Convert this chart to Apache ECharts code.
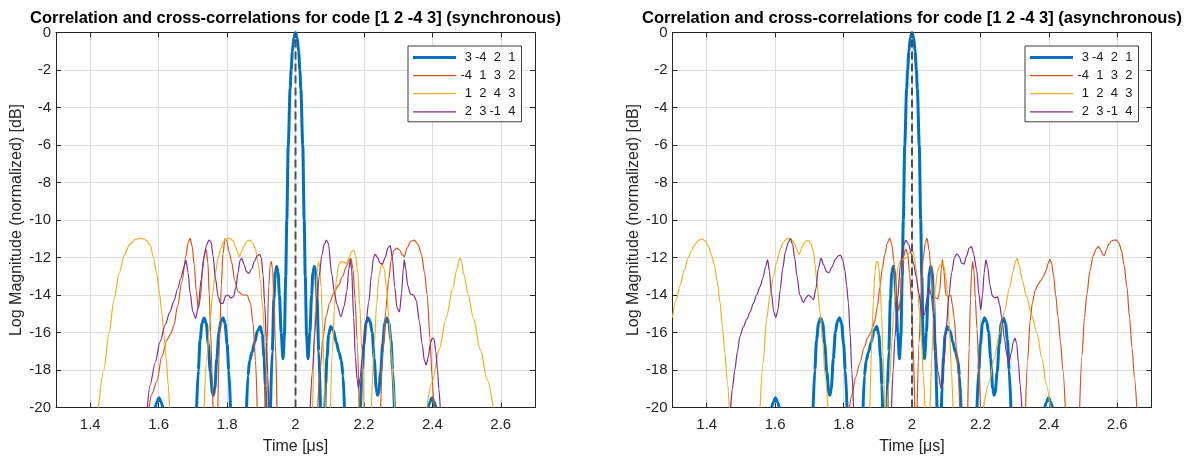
<!DOCTYPE html>
<html>
<head>
<meta charset="utf-8">
<title>Correlation and cross-correlations for code [1 2 -4 3]</title>
<script src="https://cdn.jsdelivr.net/npm/echarts@6/dist/echarts.min.js"></script>
<style>
  html, body { margin: 0; padding: 0; background: #ffffff; }
  #chart { width: 1186px; height: 460px; }
</style>
</head>
<body>
<div id="chart"></div>
<script>
// ---- axes ----------------------------------------------------------------
const timeTicks = [1.4, 1.6, 1.8, 2.0, 2.2, 2.4, 2.6];   // [µs]
const timeRange = [1.3, 2.7];
const dbRange = [-20, 0];                                 // [dB]
const dbStep = 2;
const delayMarker = 2.0;                                  // expected peak position [µs]

const plotTitles = [
  'Correlation and cross-correlations for code [1 2 -4 3] (synchronous)',
  'Correlation and cross-correlations for code [1 2 -4 3] (asynchronous)'
];
const codeNames = ['3 -4 2 1', '-4 1 3 2', '1 2 4 3', '2 3 -1 4'];

// ---- curves: each inner array is one visible run of [time µs, level dB] ---
// auto-correlation of 3 -4 2 1 (same in both cases)
const autoCorr = [
  [[1.590,-20],[1.595,-19.7],[1.601,-19.48],[1.607,-19.7],[1.612,-20]],
  [[1.711,-20],[1.716,-18.0],[1.721,-16.4],[1.727,-15.5],[1.733,-15.22],[1.739,-15.5],[1.745,-16.6],[1.751,-18.1],[1.757,-19.2],[1.760,-19.35],[1.764,-19.0],[1.770,-17.4],[1.776,-16.0],[1.782,-15.4],[1.788,-15.21],[1.794,-15.5],[1.800,-16.6],[1.805,-18.0],[1.810,-20]],
  [[1.857,-20],[1.861,-18.3],[1.866,-17.5],[1.873,-17.05],[1.881,-16.5],[1.889,-15.9],[1.897,-15.68],[1.903,-16.1],[1.908,-17.3],[1.912,-18.8],[1.914,-20]],
  [[1.927,-20],[1.932,-17.0],[1.937,-14.2],[1.941,-12.8],[1.945,-12.48],[1.949,-12.8],[1.953,-14.0],[1.958,-16.0],[1.9635,-17.4],[1.9675,-16.2],[1.9715,-13.0],[1.9746,-10.0],[1.9788,-6.0],[1.9844,-3.0],[1.9872,-2.0],[1.9909,-1.0],[1.9953,-0.27],[2.0,0],[2.0047,-0.27],[2.0091,-1.0],[2.0128,-2.0],[2.0156,-3.0],[2.0212,-6.0],[2.0254,-10.0],[2.0285,-13.0],[2.0325,-16.2],[2.0365,-17.4],[2.042,-16.0],[2.047,-14.0],[2.051,-12.8],[2.055,-12.48],[2.059,-12.8],[2.063,-14.2],[2.068,-17.0],[2.073,-20]],
  [[2.086,-20],[2.088,-18.8],[2.092,-17.3],[2.097,-16.1],[2.103,-15.68],[2.111,-15.9],[2.119,-16.5],[2.127,-17.05],[2.134,-17.5],[2.139,-18.3],[2.143,-20]],
  [[2.190,-20],[2.195,-18.0],[2.200,-16.6],[2.206,-15.5],[2.212,-15.21],[2.218,-15.4],[2.224,-16.0],[2.230,-17.4],[2.236,-19.0],[2.240,-19.35],[2.243,-19.2],[2.249,-18.1],[2.255,-16.6],[2.261,-15.5],[2.267,-15.22],[2.273,-15.5],[2.279,-16.4],[2.284,-18.0],[2.289,-20]],
  [[2.388,-20],[2.393,-19.7],[2.399,-19.48],[2.405,-19.7],[2.410,-20]]
];

// synchronous cross-correlations
const syncCodeB = [
  [[1.572,-20],[1.580,-19.3],[1.595,-18.6],[1.609,-17.3],[1.624,-16.4],[1.636,-16.05],[1.645,-15.6],[1.655,-14.6],[1.668,-13.3],[1.680,-11.9],[1.686,-11.2],[1.692,-10.98],[1.698,-11.4],[1.704,-12.4],[1.710,-13.8],[1.716,-14.7],[1.722,-14.2],[1.728,-12.7],[1.734,-11.8],[1.739,-11.58],[1.744,-12.3],[1.748,-14.0],[1.752,-16.0],[1.756,-18.2],[1.759,-20]],
  [[1.773,-20],[1.778,-16.5],[1.783,-13.5],[1.788,-11.8],[1.794,-11.0],[1.799,-11.1],[1.806,-11.7],[1.814,-12.3],[1.822,-13.2],[1.832,-13.8],[1.845,-14.0],[1.858,-14.0],[1.868,-14.4],[1.876,-15.5],[1.883,-17.5],[1.888,-20]],
  [[1.912,-20],[1.917,-16.5],[1.922,-13.5],[1.926,-12.4],[1.929,-12.22],[1.933,-12.6],[1.937,-14.2],[1.941,-16.5],[1.946,-20]],
  [[2.065,-20],[2.072,-18.0],[2.080,-16.3],[2.090,-15.1],[2.100,-14.4],[2.112,-13.9],[2.125,-13.5],[2.138,-13.0],[2.148,-12.5],[2.156,-12.15],[2.162,-12.05],[2.168,-12.6],[2.174,-14.2],[2.180,-16.4],[2.186,-20]],
  [[2.249,-20],[2.256,-17.0],[2.264,-14.8],[2.272,-13.2],[2.280,-12.1],[2.288,-11.6],[2.296,-11.5],[2.304,-11.6],[2.312,-11.85],[2.318,-11.95],[2.326,-11.5],[2.336,-11.15],[2.347,-11.07],[2.358,-11.3],[2.368,-11.8],[2.377,-12.8],[2.385,-14.0],[2.393,-16.3],[2.399,-18.3],[2.404,-20]]
];
const syncCodeC = [
  [[1.424,-20],[1.440,-18.0],[1.455,-16.0],[1.470,-14.2],[1.485,-12.8],[1.500,-11.85],[1.515,-11.3],[1.530,-11.05],[1.545,-10.98],[1.555,-11.0],[1.565,-11.1],[1.575,-11.33],[1.585,-12.0],[1.595,-12.93],[1.603,-14.0],[1.609,-14.9],[1.616,-16.2],[1.622,-17.4],[1.628,-18.8],[1.632,-20]],
  [[1.733,-20],[1.740,-17.5],[1.750,-15.4],[1.758,-13.9],[1.766,-12.8],[1.774,-12.0],[1.782,-11.5],[1.790,-11.15],[1.798,-11.0],[1.808,-10.98],[1.817,-11.1],[1.824,-11.4],[1.831,-11.75],[1.836,-11.95],[1.842,-11.7],[1.850,-11.35],[1.858,-11.12],[1.866,-11.07],[1.874,-11.2],[1.882,-11.5],[1.890,-12.2],[1.897,-13.2],[1.904,-14.6],[1.910,-16.3],[1.915,-18.0],[1.920,-20]],
  [[2.050,-20],[2.055,-16.8],[2.059,-14.3],[2.063,-12.8],[2.067,-12.22],[2.071,-12.5],[2.075,-13.6],[2.079,-15.5],[2.083,-17.8],[2.087,-20]],
  [[2.102,-20],[2.108,-17.0],[2.114,-14.6],[2.120,-13.1],[2.126,-12.4],[2.134,-12.2],[2.142,-12.25],[2.150,-12.3],[2.157,-12.0],[2.163,-11.7],[2.170,-11.6],[2.176,-11.9],[2.182,-12.8],[2.188,-14.6],[2.194,-17.0],[2.200,-20]],
  [[2.222,-20],[2.230,-16.8],[2.237,-14.5],[2.244,-13.0],[2.252,-12.3],[2.259,-12.6],[2.266,-13.6],[2.273,-15.2],[2.280,-17.0],[2.286,-18.8],[2.290,-20]],
  [[2.384,-20],[2.400,-18.6],[2.420,-16.9],[2.440,-15.25],[2.460,-13.6],[2.472,-12.6],[2.478,-12.15],[2.481,-12.03],[2.485,-12.2],[2.492,-12.9],[2.505,-14.0],[2.520,-15.25],[2.540,-16.9],[2.560,-18.5],[2.578,-20]]
];
const syncCodeD = [
  [[1.567,-20],[1.575,-18.8],[1.590,-17.6],[1.604,-16.5],[1.619,-15.6],[1.633,-14.9],[1.645,-14.3],[1.655,-13.7],[1.665,-13.1],[1.674,-12.5],[1.680,-12.15],[1.686,-12.8],[1.692,-13.9],[1.700,-14.9],[1.708,-15.25],[1.716,-14.6],[1.724,-13.2],[1.732,-12.0],[1.740,-11.35],[1.747,-11.07],[1.753,-11.15],[1.759,-11.9],[1.766,-13.1],[1.774,-14.1],[1.781,-14.45],[1.788,-14.45],[1.796,-14.05],[1.803,-14.0],[1.810,-14.15],[1.818,-14.1],[1.826,-13.6],[1.832,-12.8],[1.838,-12.15],[1.843,-12.05],[1.850,-12.4],[1.857,-12.75],[1.864,-12.85],[1.872,-12.6],[1.880,-12.2],[1.888,-11.92],[1.895,-11.83],[1.900,-12.0],[1.905,-12.9],[1.910,-14.5],[1.915,-16.5],[1.919,-18.3],[1.922,-20]],
  [[2.043,-20],[2.050,-18.0],[2.056,-16.0],[2.062,-14.7],[2.069,-13.0],[2.077,-11.87],[2.084,-11.3],[2.090,-11.07],[2.096,-11.25],[2.106,-12.9],[2.114,-13.9],[2.121,-14.5],[2.133,-15.16],[2.142,-14.6],[2.150,-13.8],[2.156,-12.6],[2.160,-12.13],[2.164,-12.6],[2.170,-15.2],[2.175,-17.3],[2.180,-18.5],[2.184,-18.97],[2.189,-18.4],[2.195,-17.3],[2.205,-15.6],[2.214,-14.4],[2.222,-12.9],[2.228,-12.0],[2.233,-11.83],[2.240,-12.0],[2.247,-12.3],[2.254,-12.35],[2.262,-12.0],[2.270,-11.5],[2.277,-11.37],[2.283,-12.0],[2.290,-13.6],[2.297,-14.7],[2.304,-14.9],[2.310,-13.9],[2.315,-12.6],[2.318,-12.13],[2.322,-12.6],[2.328,-13.5],[2.336,-13.95],[2.345,-14.0],[2.353,-14.3],[2.362,-15.4],[2.370,-16.6],[2.377,-17.5],[2.382,-17.73],[2.388,-17.3],[2.394,-16.6],[2.400,-16.3],[2.405,-16.35],[2.410,-17.0],[2.415,-18.0],[2.419,-19.0],[2.423,-20]]
];

// asynchronous cross-correlations
const asyncCodeB = [
  [[1.817,-20],[1.825,-19.3],[1.835,-18.4],[1.848,-17.6],[1.860,-16.8],[1.870,-16.3],[1.878,-16.05],[1.886,-15.7],[1.892,-15.3],[1.899,-14.6],[1.906,-13.6],[1.913,-12.6],[1.921,-11.8],[1.928,-11.2],[1.935,-10.98],[1.941,-11.3],[1.947,-12.2],[1.952,-13.3],[1.957,-14.3],[1.961,-14.85],[1.966,-14.2],[1.971,-12.8],[1.976,-11.9],[1.982,-11.55],[1.987,-11.8],[1.993,-12.8],[1.998,-14.2],[2.003,-16.6],[2.008,-20]],
  [[2.015,-20],[2.021,-16.5],[2.027,-13.8],[2.033,-12.0],[2.039,-11.2],[2.044,-10.98],[2.050,-11.6],[2.056,-12.8],[2.062,-13.8],[2.068,-14.15],[2.075,-14.2],[2.081,-13.8],[2.086,-12.6],[2.089,-12.13],[2.093,-12.7],[2.099,-14.0],[2.106,-14.1],[2.113,-14.0],[2.118,-14.5],[2.123,-15.2],[2.130,-16.8],[2.135,-18.3],[2.140,-20]],
  [[2.163,-20],[2.167,-16.8],[2.171,-14.2],[2.174,-12.8],[2.177,-12.22],[2.181,-12.7],[2.185,-14.2],[2.190,-15.8],[2.195,-17.8],[2.200,-20]],
  [[2.332,-20],[2.338,-17.5],[2.345,-15.4],[2.352,-14.4],[2.360,-13.75],[2.368,-13.45],[2.376,-13.25],[2.384,-13.0],[2.392,-12.7],[2.398,-12.3],[2.403,-12.1],[2.408,-12.3],[2.414,-13.0],[2.420,-14.0],[2.427,-15.2],[2.434,-16.5],[2.441,-18.0],[2.448,-20]],
  [[2.490,-20],[2.497,-17.2],[2.504,-15.2],[2.511,-14.0],[2.520,-12.7],[2.530,-11.9],[2.538,-11.55],[2.545,-11.42],[2.552,-11.6],[2.558,-11.85],[2.562,-11.9],[2.568,-11.6],[2.575,-11.3],[2.583,-11.12],[2.590,-11.07],[2.597,-11.07],[2.604,-11.2],[2.612,-11.6],[2.620,-12.4],[2.628,-13.56],[2.636,-15.2],[2.643,-16.8],[2.650,-18.4],[2.657,-20]]
];
const asyncCodeC = [
  [[1.300,-15.2],[1.310,-14.3],[1.322,-13.5],[1.334,-12.7],[1.346,-12.0],[1.356,-11.6],[1.366,-11.3],[1.376,-11.08],[1.385,-11.0],[1.395,-11.1],[1.404,-11.35],[1.413,-11.8],[1.422,-12.4],[1.431,-13.3],[1.439,-14.4],[1.446,-15.7],[1.453,-17.1],[1.460,-18.6],[1.466,-20]],
  [[1.556,-20],[1.565,-17.6],[1.575,-15.3],[1.585,-14.0],[1.595,-13.0],[1.605,-12.2],[1.614,-11.6],[1.624,-11.2],[1.634,-11.01],[1.643,-10.98],[1.651,-11.1],[1.658,-11.3],[1.664,-11.6],[1.670,-11.85],[1.676,-11.55],[1.682,-11.3],[1.690,-11.12],[1.697,-11.1],[1.704,-11.25],[1.712,-11.7],[1.716,-12.3],[1.722,-13.3],[1.731,-14.9],[1.739,-16.5],[1.746,-18.3],[1.754,-20]],
  [[1.877,-20],[1.882,-16.8],[1.887,-14.3],[1.892,-12.7],[1.896,-12.25],[1.899,-12.2],[1.903,-12.5],[1.907,-13.5],[1.911,-15.0],[1.915,-17.0],[1.920,-20]],
  [[1.927,-20],[1.935,-18.5],[1.941,-16.5],[1.947,-14.8],[1.953,-13.4],[1.959,-12.5],[1.965,-12.2],[1.974,-12.1],[1.984,-12.0],[1.992,-11.75],[1.999,-11.6],[2.005,-11.8],[2.010,-12.3],[2.016,-13.4],[2.022,-15.0],[2.028,-16.6],[2.033,-18.3],[2.038,-20]],
  [[2.053,-20],[2.058,-17.3],[2.063,-15.2],[2.068,-13.7],[2.074,-12.8],[2.080,-12.45],[2.087,-12.3],[2.093,-12.45],[2.099,-13.0],[2.105,-14.3],[2.110,-16.0],[2.115,-18.0],[2.120,-20]],
  [[2.209,-20],[2.225,-18.7],[2.240,-17.4],[2.255,-16.1],[2.270,-14.9],[2.285,-13.6],[2.296,-12.7],[2.302,-12.25],[2.307,-12.04],[2.313,-12.4],[2.322,-13.2],[2.335,-14.1],[2.350,-15.1],[2.365,-16.04],[2.380,-17.4],[2.393,-18.8],[2.404,-20]]
];
const asyncCodeD = [
  [[1.470,-20],[1.475,-19.0],[1.482,-18.0],[1.490,-17.0],[1.497,-16.2],[1.507,-15.7],[1.517,-15.3],[1.527,-14.9],[1.536,-14.45],[1.546,-14.0],[1.556,-13.55],[1.564,-13.1],[1.572,-12.5],[1.578,-12.12],[1.583,-12.7],[1.589,-13.9],[1.596,-14.9],[1.602,-15.2],[1.608,-14.8],[1.615,-13.7],[1.622,-12.6],[1.630,-11.7],[1.638,-11.2],[1.645,-11.0],[1.651,-11.3],[1.657,-12.0],[1.664,-13.0],[1.672,-14.0],[1.683,-14.4],[1.690,-14.15],[1.697,-14.0],[1.704,-14.1],[1.712,-14.25],[1.719,-13.7],[1.726,-12.6],[1.734,-12.05],[1.742,-12.4],[1.750,-12.75],[1.757,-12.82],[1.766,-12.5],[1.776,-12.1],[1.784,-11.92],[1.791,-11.87],[1.797,-12.1],[1.804,-12.7],[1.809,-13.5],[1.814,-14.4],[1.819,-16.0],[1.824,-18.0],[1.829,-20]],
  [[1.940,-20],[1.945,-18.0],[1.950,-16.3],[1.958,-14.2],[1.966,-12.4],[1.974,-11.4],[1.982,-11.08],[1.990,-11.3],[1.998,-11.8],[2.004,-12.25],[2.012,-13.0],[2.020,-13.9],[2.028,-14.9],[2.036,-15.07],[2.043,-14.3],[2.050,-13.6],[2.056,-14.0],[2.062,-14.9],[2.068,-16.4],[2.076,-18.1],[2.085,-18.98],[2.092,-17.8],[2.100,-15.8],[2.108,-14.0],[2.116,-12.8],[2.124,-12.0],[2.131,-11.8],[2.138,-11.95],[2.145,-12.3],[2.152,-12.35],[2.160,-11.9],[2.167,-11.5],[2.174,-11.42],[2.180,-11.8],[2.189,-12.67],[2.196,-14.0],[2.201,-14.8],[2.206,-14.0],[2.211,-12.8],[2.216,-12.13],[2.221,-12.5],[2.228,-13.5],[2.235,-14.05],[2.242,-14.15],[2.250,-14.1],[2.256,-14.5],[2.262,-15.16],[2.270,-16.3],[2.277,-17.2],[2.283,-17.64],[2.290,-17.1],[2.296,-16.5],[2.301,-16.3],[2.306,-16.6],[2.311,-17.6],[2.316,-18.8],[2.321,-20]]
];

// ---- styling ----------------------------------------------------------------
const lineColors = ['#0072BD', '#D95319', '#EDB120', '#7E2F8E'];
const lineWidths = [3, 1.2, 1.2, 1.2];
const axisColor = '#262626';
const gridColor = '#dedede';
const fontFamily = "'Liberation Sans', Arial, Helvetica, sans-serif";

const plotGrids = [
  { left: 56, top: 32.5, width: 479, height: 375 },
  { left: 672.5, top: 32.5, width: 479, height: 375 }
];
const legendLefts = [408, 1025];
const legendSample = { w: 43, h: 14 };
const curveSets = [
  [autoCorr, syncCodeB, syncCodeC, syncCodeD],
  [autoCorr, asyncCodeB, asyncCodeC, asyncCodeD]
];

// concatenate runs, with a gap between them
function joinRuns(runs) {
  const out = [];
  runs.forEach((run, i) => {
    if (i > 0) out.push([run[0][0], null]);
    run.forEach(pt => out.push(pt));
  });
  return out;
}

// legend sample: a horizontal bar of the line's width, centred in the icon box
// (two hair-thin corner specks pin the path's bounds to the full box)
function lineSampleIcon(width) {
  const { w, h } = legendSample;
  const y0 = h / 2 - width / 2, y1 = h / 2 + width / 2;
  return 'path://M0,0h0.001v0.001h-0.001Z' +
         'M0,' + y0 + 'H' + w + 'V' + y1 + 'H0Z' +
         'M' + (w - 0.001) + ',' + (h - 0.001) + 'h0.001v0.001h-0.001Z';
}

const tickLabel = { fontFamily, fontSize: 15, color: axisColor };
const nameStyle = { fontFamily, fontSize: 16, color: axisColor };

const xAxes = [], yAxes = [], series = [];
plotGrids.forEach((g, p) => {
  xAxes.push({
    type: 'value', gridIndex: p, position: 'bottom',
    min: timeRange[0], max: timeRange[1],
    axisLine: { show: true, onZero: false, lineStyle: { color: axisColor, width: 1 } },
    axisTick: { show: true, inside: true, length: 5, customValues: timeTicks, lineStyle: { color: axisColor } },
    axisLabel: Object.assign({ customValues: timeTicks, margin: 10,
      formatter: v => String(+(+v).toFixed(1)) }, tickLabel),
    splitLine: { show: true, lineStyle: { color: gridColor, width: 1 } },
    name: 'Time [\u03bcs]', nameLocation: 'middle', nameGap: 31, nameTextStyle: nameStyle
  });
  xAxes.push({
    type: 'value', gridIndex: p, position: 'top',
    min: timeRange[0], max: timeRange[1],
    axisLine: { show: true, onZero: false, lineStyle: { color: axisColor, width: 1 } },
    axisTick: { show: true, inside: true, length: 5, customValues: timeTicks, lineStyle: { color: axisColor } },
    axisLabel: { show: false },
    splitLine: { show: false }
  });
  yAxes.push({
    type: 'value', gridIndex: p, position: 'left',
    min: dbRange[0], max: dbRange[1], interval: dbStep,
    axisLine: { show: true, onZero: false, lineStyle: { color: axisColor, width: 1 } },
    axisTick: { show: true, inside: true, length: 5, lineStyle: { color: axisColor } },
    axisLabel: Object.assign({ margin: 5 }, tickLabel),
    splitLine: { show: true, lineStyle: { color: gridColor, width: 1 } },
    name: 'Log Magnitude (normalized) [dB]', nameLocation: 'middle', nameGap: 31,
    nameTextStyle: nameStyle
  });
  yAxes.push({
    type: 'value', gridIndex: p, position: 'right',
    min: dbRange[0], max: dbRange[1], interval: dbStep,
    axisLine: { show: true, onZero: false, lineStyle: { color: axisColor, width: 1 } },
    axisTick: { show: true, inside: true, length: 5, lineStyle: { color: axisColor } },
    axisLabel: { show: false },
    splitLine: { show: false }
  });

  curveSets[p].forEach((runs, k) => {
    series.push({
      name: codeNames[k], type: 'line',
      xAxisIndex: 2 * p, yAxisIndex: 2 * p,
      data: joinRuns(runs),
      showSymbol: false, symbol: 'none',
      smooth: 0.3, smoothMonotone: 'x',
      connectNulls: false, clip: true,
      lineStyle: { color: lineColors[k], width: lineWidths[k], join: 'round' },
      itemStyle: { color: lineColors[k] },
      emphasis: { disabled: true },
      animation: false
    });
  });

  // dashed marker at the expected delay
  series.push({
    type: 'line', xAxisIndex: 2 * p, yAxisIndex: 2 * p,
    data: [[delayMarker, dbRange[0]], [delayMarker, dbRange[1]]],
    showSymbol: false, symbol: 'none', silent: true,
    lineStyle: { color: '#505050', width: 2, type: [8, 4] },
    emphasis: { disabled: true },
    animation: false
  });
});

const chart = echarts.init(document.getElementById('chart'), null, { renderer: 'canvas' });
chart.setOption({
  animation: false,
  backgroundColor: '#ffffff',
  title: plotTitles.map((t, p) => ({
    text: t,
    left: plotGrids[p].left + plotGrids[p].width / 2,
    top: 9.5, padding: 0, textAlign: 'center',
    textStyle: { fontFamily, fontSize: 16.5, fontWeight: 'bold', color: '#000000' }
  })),
  grid: plotGrids.map(g => Object.assign({ containLabel: false }, g)),
  xAxis: xAxes,
  yAxis: yAxes,
  legend: legendLefts.map(l => ({
    data: codeNames.map((n, k) => ({
      name: n,
      icon: lineSampleIcon(lineWidths[k]),
      itemStyle: { color: lineColors[k], borderWidth: 0, opacity: 1 }
    })),
    orient: 'vertical',
    left: l, top: 46,
    itemWidth: legendSample.w, itemHeight: legendSample.h, itemGap: 4.1,
    symbolKeepAspect: false,
    padding: [4.5, 6, 3, 5],
    backgroundColor: '#ffffff',
    borderColor: '#3c3c3c', borderWidth: 1, borderRadius: 0,
    selectedMode: false,
    formatter: name => name.split(' ').map((t, i) => '{' + (i ? 'b' : 'a') + '|' + t + '}').join(''),
    textStyle: {
      fontFamily, fontSize: 13, color: '#1a1a1a',
      rich: {
        a: { fontFamily, fontSize: 13, color: '#1a1a1a', width: 11, align: 'right' },
        b: { fontFamily, fontSize: 13, color: '#1a1a1a', width: 14.5, align: 'right' }
      }
    }
  })),
  series: series
});
</script>
</body>
</html>
